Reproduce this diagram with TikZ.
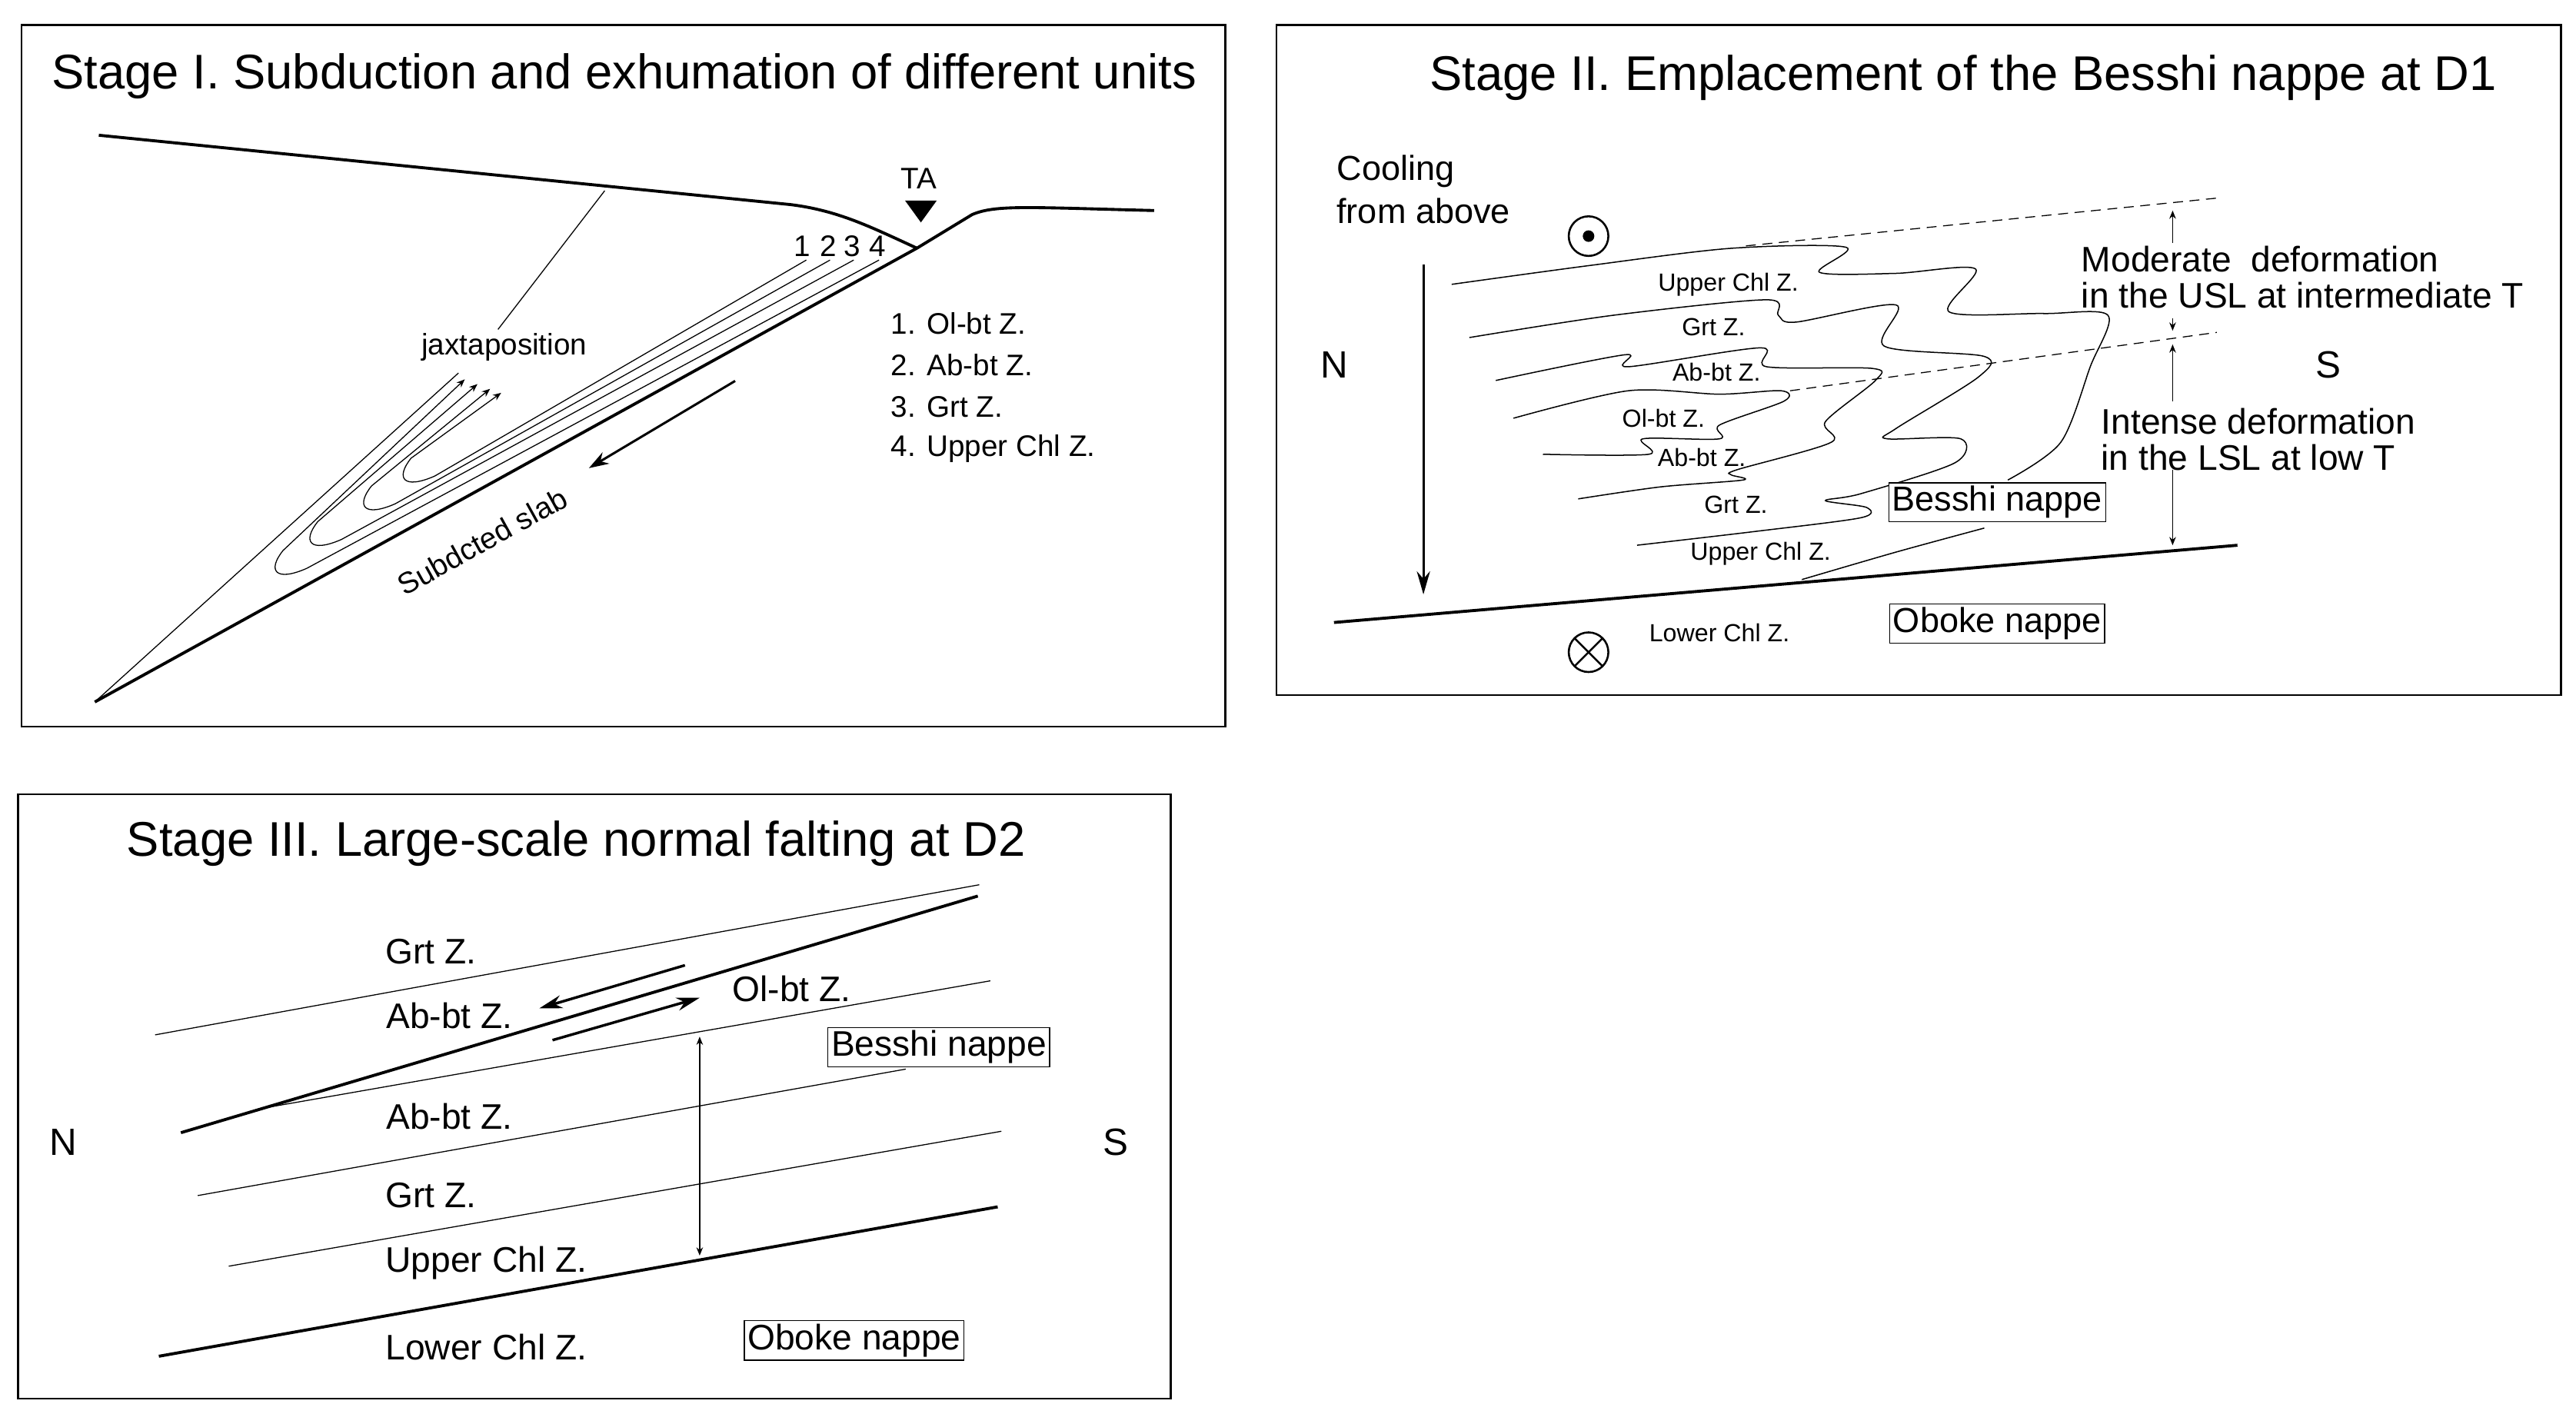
\documentclass[tikz,border=0pt]{standalone}
\usepackage{fontspec}
\setmainfont{Liberation Sans}
\usetikzlibrary{arrows.meta}
\begin{document}
\begin{tikzpicture}[x=1pt,y=-1pt,
  frame/.style={draw,line width=1.2pt},
  ttl/.style={font=\fontsize{29.5}{33}\selectfont},
  lbl/.style={font=\fontsize{18}{21}\selectfont},
  big/.style={font=\fontsize{21.5}{25}\selectfont},
  sml/.style={font=\fontsize{15}{18}\selectfont},
  nbox/.style={draw,line width=0.6pt,inner sep=2pt,font=\fontsize{21}{25}\selectfont},
  thick line/.style={line width=2.2pt},
  thin line/.style={line width=0.6pt},
  fold/.style={line width=0.7pt}]
\useasboundingbox (0,0) rectangle (1560,862);
\fill[white] (0,0) rectangle (1560,862);

% ---------- Stage I ----------
\draw[frame] (13,15) rectangle (742,440);
\node[ttl] (t1) at (378,46) {Stage I. Subduction and exhumation of different units};
\begin{scope}[shift={(0,69.9)},xscale=0.4787,yscale=0.240]
  \coordinate (s1a) at (125,50);
  \coordinate (s1b) at (1160,335);
  \coordinate (s1c) at (120,1480);
  \draw[line width=1.8pt] (s1a) -- (1000,225) .. controls (1060,240) and (1100,280) .. (s1b);
  \draw[line width=1.8pt] (s1c) -- (s1b) -- (1230,250) .. controls (1260,225) and (1300,232) .. (1460,240);
  \draw[thin line] (765,190) -- (630,540);
  \draw[thin line] (580,650) -- (s1c);
  \draw[-{Stealth[length=12pt,width=8pt]},line width=1.4pt] (930,670) -- (745,890);
  \foreach \sx/\tx/\ty/\ex/\ey in {1020/510/945/634/700, 1050/460/1015/620/690, 1080/392/1105/604/678, 1112/348/1178/588/666}{
    \draw[thin line,-{Stealth[length=5pt,width=4pt]}] (\sx,365) -- (\tx+40,\ty-35) .. controls (\tx,\ty) and (\tx-10,\ty-30) .. (\tx+10,\ty-80) -- (\ex,\ey);
  }
  \node[lbl] (n1) at (1015,330) {1};
  \node[lbl] (n2) at (1048,330) {2};
  \node[lbl] (n3) at (1078,330) {3};
  \node[lbl] (n4) at (1110,330) {4};
  \fill (1145,215) -- (1185,215) -- (1165,270) -- cycle;
  \node[lbl] (ta) at (1162,160) {TA};
  \node[lbl] (jx) at (638,585) {jaxtaposition};
  \node[lbl,anchor=west] (l1) at (1120,525) {1. Ol-bt Z.};
  \node[lbl,anchor=west] (l2) at (1120,630) {2. Ab-bt Z.};
  \node[lbl,anchor=west] (l3) at (1120,735) {3. Grt Z.};
  \node[lbl,anchor=west] (l4) at (1120,840) {4. Upper Chl Z.};
  \node[lbl,rotate=29] (sl) at (610,1075) {Subdcted slab};
\end{scope}

% ---------- Stage II ----------
\draw[frame] (773,15) rectangle (1551,421);
\node[ttl] (t2) at (1189,47) {Stage II. Emplacement of the Besshi nappe at D1};
\node[big,font=\fontsize{21}{25}\selectfont,anchor=west] (c1) at (806,104) {Cooling};
\node[big,font=\fontsize{21}{25}\selectfont,anchor=west] (c2) at (806,128) {from above};
\node[font=\fontsize{23}{27}\selectfont] (N2) at (808,221) {N};
\node[font=\fontsize{23}{27}\selectfont] (S2) at (1410,221) {S};
\node[big,anchor=west] (m1) at (1257,157) {Moderate\ \ deformation};
\node[big,anchor=west] (m2) at (1257,179) {in the USL at intermediate T};
\node[big,anchor=west] (i1) at (1269,255) {Intense deformation};
\node[big,anchor=west] (i2) at (1269,277) {in the LSL at low T};
\coordinate (ca) at (862,160);
\coordinate (cb) at (862,360);
\draw[line width=1.4pt,-{Stealth[length=14pt,width=8pt]}] (ca) -- (cb);
\draw[line width=1.2pt] (962,143) circle (12);
\fill (962,143) circle (3.5);
\draw[line width=1.2pt] (962,395) circle (12);
\draw[line width=1.2pt] (962,395) ++(45:12) -- ++(225:24);
\draw[line width=1.2pt] (962,395) ++(135:12) -- ++(315:24);
\begin{scope}[shift={(791.8,93.2)},xscale=0.3564,yscale=0.2079]
  \coordinate (ba) at (45,1365);
  \coordinate (bb) at (1580,1140);
  \draw[line width=1.8pt] (ba) -- (bb);
  \draw[thin line,dash pattern=on 6pt off 4pt] (745,268) -- (1550,128);
  \draw[thin line,dash pattern=on 6pt off 4pt] (820,690) -- (1545,520);
  \draw[fold] plot[smooth,tension=0.5] coordinates {(245,380) (480,325) (720,275) (915,272) (870,345) (1000,348) (1135,335) (1090,460) (1250,465) (1360,470) (1330,620) (1280,840) (1190,950)};
  \draw[fold] plot[smooth,tension=0.5] coordinates {(1150,1090) (1000,1160) (840,1240)};
  \draw[fold] plot[smooth,tension=0.5] coordinates {(275,535) (520,470) (780,425) (800,470) (830,490) (1000,440) (980,560) (1150,590) (1140,650) (1000,800) (985,830) (1110,830) (1100,900) (940,990) (880,1010) (950,1030) (940,1060) (760,1100) (560,1140)};
  \draw[fold] plot[smooth,tension=0.5] coordinates {(320,660) (540,585) (545,620) (770,565) (780,620) (960,625) (965,660) (880,780) (890,840) (730,920) (720,935) (740,950) (600,970) (460,1005)};
  \draw[fold] plot[smooth,tension=0.5] coordinates {(350,770) (545,690) (700,700) (805,690) (810,720) (700,790) (700,830) (570,830) (580,875) (400,875)};
  \draw[thin line,{Stealth[length=5pt,width=4pt]}-] (1470,165) -- (1470,260);
  \draw[thin line,-{Stealth[length=5pt,width=4pt]}] (1470,480) -- (1470,515);
  \draw[thin line,{Stealth[length=5pt,width=4pt]}-] (1470,555) -- (1470,720);
  \draw[thin line,-{Stealth[length=5pt,width=4pt]}] (1470,920) -- (1470,1140);
  \node[sml] (u1) at (715,380) {Upper Chl Z.};
  \node[sml] (g1) at (690,505) {Grt Z.};
  \node[sml] (a1) at (695,635) {Ab-bt Z.};
  \node[sml] (o1) at (605,770) {Ol-bt Z.};
  \node[sml] (a2) at (670,885) {Ab-bt Z.};
  \node[sml] (g2) at (728,1022) {Grt Z.};
  \node[sml] (u2) at (770,1165) {Upper Chl Z.};
  \node[sml] (lc) at (700,1395) {Lower Chl Z.};
  \node[nbox,fill=white] (bn) at (1172,1015) {Besshi nappe};
  \node[nbox,fill=white] (on) at (1172,1368) {Oboke nappe};
\end{scope}

% ---------- Stage III ----------
\draw[frame] (11,481) rectangle (709,847);
\node[ttl] (t3) at (349,511) {Stage III. Large-scale normal falting at D2};
\begin{scope}[shift={(9.3,512.3)},xscale=0.4456,yscale=0.2139]
  \coordinate (f1) at (225,812);
  \coordinate (f2) at (1308,142);
  \coordinate (b1) at (195,1445);
  \coordinate (b2) at (1335,1022);
  \draw[thin line] (190,535) -- (1310,110);
  \draw[line width=1.8pt] (f1) -- (f2);
  \draw[thin line] (330,745) -- (1325,382);
  \draw[thin line] (248,990) -- (1210,632);
  \draw[thin line] (290,1190) -- (1340,808);
  \draw[line width=1.8pt] (b1) -- (b2);
  \draw[line width=1.6pt,-{Stealth[length=14pt,width=8pt]}] (910,338) -- (712,460);
  \draw[line width=1.6pt,-{Stealth[length=14pt,width=8pt]}] (730,550) -- (930,430);
  \draw[thin line,{Stealth[length=5pt,width=4pt]}-{Stealth[length=5pt,width=4pt]}] (930,540) -- (930,1160);
  \node[big] (g3) at (565,300) {Grt Z.};
  \node[big] (a3) at (590,480) {Ab-bt Z.};
  \node[big] (o3) at (1055,405) {Ol-bt Z.};
  \node[big] (a4) at (590,765) {Ab-bt Z.};
  \node[big] (g4) at (565,990) {Grt Z.};
  \node[big] (u3) at (640,1180) {Upper Chl Z.};
  \node[big] (lc3) at (640,1420) {Lower Chl Z.};
  \node[nbox,fill=white,font=\fontsize{21.5}{25}\selectfont] (bn3) at (1255,570) {Besshi nappe};
  \node[nbox,fill=white,font=\fontsize{21.5}{25}\selectfont] (on3) at (1140,1400) {Oboke nappe};
  \node[font=\fontsize{23}{27}\selectfont] (N3) at (65,840) {N};
  \node[font=\fontsize{23}{27}\selectfont] (S3) at (1495,840) {S};
\end{scope}
\end{tikzpicture}
\end{document}
